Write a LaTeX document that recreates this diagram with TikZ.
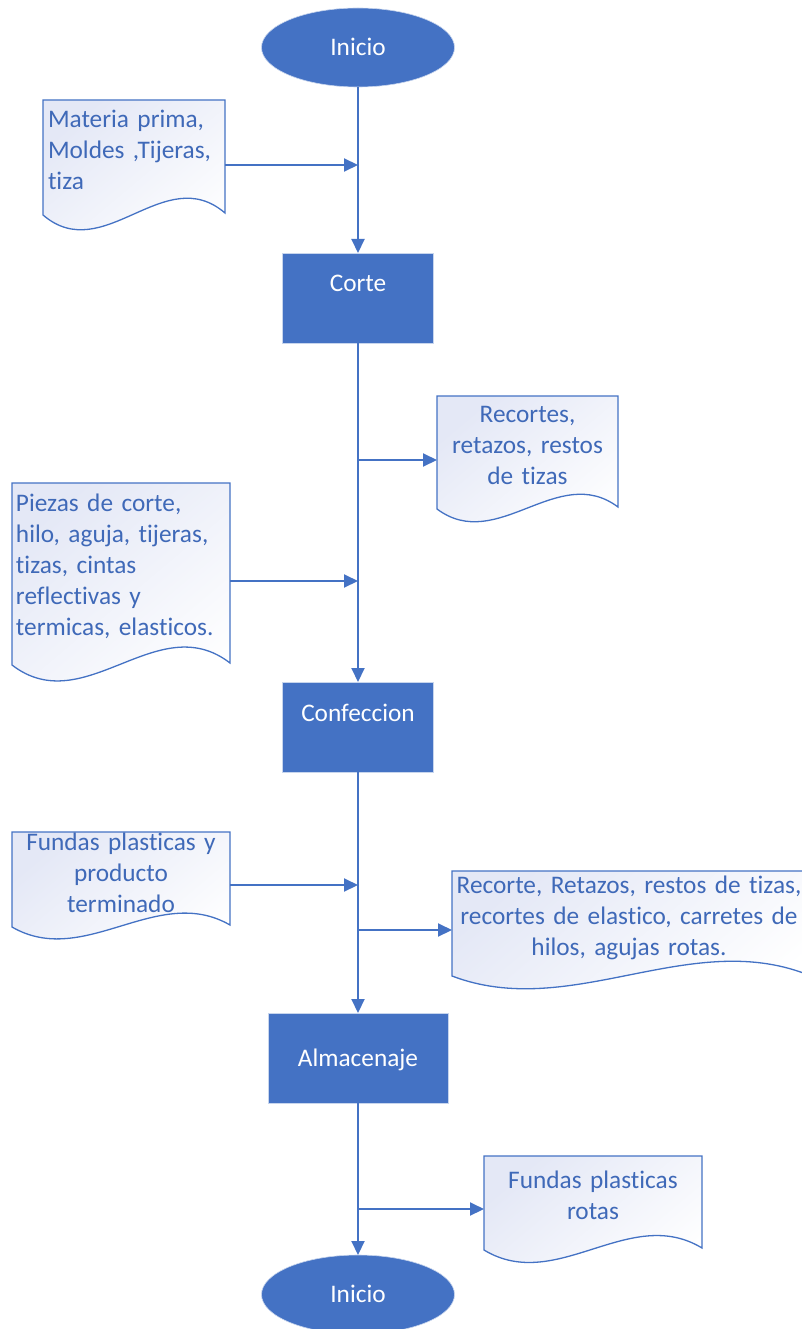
\documentclass[tikz,border=0pt]{standalone}
\usepackage{fontspec}
\setmainfont{Carlito}[Ligatures=NoCommon]
\usetikzlibrary{arrows.meta,shapes.geometric,calc}
\definecolor{officeblue}{HTML}{4472C4}
\definecolor{doctext}{HTML}{3F69B8}
\definecolor{docshade}{HTML}{E4E8F6}
\newcommand\chartfont{\fontsize{25.3}{31}\selectfont}
% Document symbol: straight top and sides, wavy bottom edge.
% #1 = left x, #2 = top y, #3 = width, #4 = height at the right side, #5 = wave depth
\newcommand\docframe[5]{%
  \path[docframe] (#1,#2) -- ({#1+#3},#2) -- ({#1+#3},{#2+#4})
    .. controls +({-#3/3},{-#5}) and +({#3/3},{#5}) .. (#1,{#2+#4+2}) -- cycle;}
\begin{document}
\begin{tikzpicture}[x=1pt,y=-1pt,
  every node/.style={font=\chartfont},
  terminal/.style={ellipse, fill=officeblue, draw=white!70!officeblue, line width=0.6pt,
    text=white, minimum width=193pt, minimum height=79pt, inner sep=0pt, outer sep=0pt,
    text height=18pt, text depth=2pt},
  process/.style={rectangle, fill=officeblue, draw=white!70!officeblue, line width=0.6pt,
    text=white, minimum height=90pt, inner sep=0pt, outer sep=0pt},
  toptext/.style={text height=18pt, text depth=30pt},
  midtext/.style={text height=18pt, text depth=2pt},
  doctxt/.style={anchor=north west, text=doctext, inner ysep=0pt, outer sep=0pt,
    execute at begin node=\strut},
  docframe/.style={draw=officeblue, line width=1.3pt, top color=docshade,
    bottom color=white, shading angle=40},
  flow/.style={draw=officeblue, line width=2pt, -{Triangle[length=14pt,width=13pt]}},
]
\useasboundingbox (0,0) rectangle (802,1329);

% document frames
\docframe{43}{100}{182}{113}{52}
\docframe{437}{396}{181}{111}{45}
\docframe{12}{483}{218}{180}{56}
\docframe{12}{832}{218}{93}{42}
\docframe{452}{871}{354}{103}{45}
\docframe{484}{1156}{218}{92}{44}

% process steps
\node[terminal] (inicio) at (358,47.5) {Inicio};
\node[process, toptext, minimum width=151pt] (corte) at (358,298) {Corte};
\node[process, toptext, minimum width=151pt] (confeccion) at (358,727) {Confeccion};
\node[process, midtext, minimum width=180pt] (almacen) at (358,1058) {Almacenaje};
\node[terminal] (fin) at (358,1294.5) {Inicio};

% document texts
\node[doctxt, inner xsep=5pt, text width=172pt, align=left] (d1) at (43,106)
  {Materia prima,\\Moldes ,Tijeras,\\tiza};
\node[doctxt, inner xsep=0pt, text width=181pt, align=center] (d2) at (437,401)
  {Recortes,\\retazos, restos\\de tizas};
\node[doctxt, inner xsep=4pt, text width=210pt, align=left] (d3) at (12,489.5)
  {Piezas de corte,\\hilo, aguja, tijeras,\\tizas, cintas\\reflectivas y\\termicas, elasticos.};
\node[doctxt, inner xsep=0pt, text width=218pt, align=center] (d4) at (12,829)
  {Fundas plasticas y\\producto\\terminado};
\node[doctxt, inner xsep=0pt, text width=354pt, align=center] (d5) at (452,872)
  {Recorte, Retazos, restos de tizas,\\recortes de elastico, carretes de\\hilos, agujas rotas.};
\node[doctxt, inner xsep=0pt, text width=218pt, align=center] (d6) at (484,1166.5)
  {Fundas plasticas\\rotas};

% junctions on the main flow line
\coordinate (j1) at (358,165);
\coordinate (j2) at (358,460);
\coordinate (j3) at (358,581);
\coordinate (j4) at (358,885);
\coordinate (j5) at (358,930);
\coordinate (j6) at (358,1209);

% main flow
\draw[flow] (inicio.south) -- (corte.north);
\draw[flow] (corte.south) -- (confeccion.north);
\draw[flow] (confeccion.south) -- (almacen.north);
\draw[flow] (almacen.south) -- (fin.north);

% inputs and outputs
\draw[flow] (d1.east |- j1) -- (j1);
\draw[flow] (j2) -- (d2.west |- j2);
\draw[flow] (d3.east |- j3) -- (j3);
\draw[flow] (d4.east |- j4) -- (j4);
\draw[flow] (j5) -- (d5.west |- j5);
\draw[flow] (j6) -- (d6.west |- j6);
\end{tikzpicture}
\end{document}
